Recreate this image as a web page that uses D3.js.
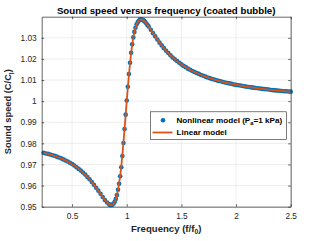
<!DOCTYPE html>
<html>
<head>
<meta charset="utf-8">
<script src="https://cdn.jsdelivr.net/npm/d3@7"></script>
<style>
  html, body { margin: 0; padding: 0; background: #fff; }
  svg { display: block; font-family: "Liberation Sans", Arial, Helvetica, sans-serif; }
</style>
</head>
<body>
<svg id="chart" width="321" height="241"></svg>
<script>
// ---------------- data ----------------
const freqs = [
  0.24,0.26,0.28,0.30,0.32,0.34,0.36,0.38,0.40,0.42,0.44,0.46,0.48,0.50,0.52,0.54,0.56,0.58,0.60,0.62,
  0.64,0.66,0.68,0.70,0.72,0.74,0.76,0.78,0.80,0.82,0.84,
  0.85,0.86,0.87,0.88,0.89,0.90,0.91,0.92,0.93,0.94,0.95,0.96,0.97,0.98,0.99,1.00,1.01,1.02,1.03,1.04,
  1.05,1.06,1.07,1.08,1.09,1.10,1.11,1.12,1.13,1.14,1.15,1.16,1.17,1.18,1.19,1.20,
  1.22,1.24,1.26,1.28,1.30,1.32,1.34,1.36,1.38,1.40,1.42,1.44,1.46,1.48,1.50,1.52,1.54,1.56,1.58,1.60,
  1.62,1.64,1.66,1.68,1.70,1.72,1.74,1.76,1.78,1.80,1.82,1.84,1.86,1.88,1.90,1.92,1.94,1.96,1.98,2.00,
  2.02,2.04,2.06,2.08,2.10,2.12,2.14,2.16,2.18,2.20,2.22,2.24,2.26,2.28,2.30,2.32,2.34,2.36,2.38,2.40,
  2.42,2.44,2.46,2.48,2.50
];
const linearModel = [
  0.97548,0.97524,0.97498,0.97470,0.97439,0.97406,0.97369,0.97330,0.97287,0.97240,0.97190,0.97136,0.97078,0.97015,0.96947,0.96873,0.96794,0.96708,0.96616,0.96517,
  0.96410,0.96295,0.96173,0.96042,0.95904,0.95759,0.95611,0.95462,0.95321,0.95197,0.95108,
  0.95084,0.95079,0.95098,0.95147,0.95233,0.95362,0.95542,0.95783,0.96088,0.96465,0.96914,0.97452,0.98046,0.98682,0.99340,1.00000,1.00639,1.01238,1.01782,1.02260,
  1.02668,1.03004,1.03272,1.03478,1.03628,1.03731,1.03811,1.03856,1.03872,1.03864,1.03837,1.03796,1.03742,1.03680,1.03611,1.03537,
  1.03383,1.03225,1.03069,1.02917,1.02773,1.02637,1.02509,1.02388,1.02276,1.02171,1.02073,1.01981,1.01896,1.01816,1.01741,1.01672,1.01605,1.01544,1.01486,1.01430,
  1.01380,1.01332,1.01285,1.01240,1.01198,1.01160,1.01123,1.01088,1.01054,1.01022,1.00993,1.00964,1.00936,1.00909,1.00883,1.00859,1.00837,1.00815,1.00794,1.00773,
  1.00754,1.00736,1.00717,1.00700,1.00682,1.00667,1.00652,1.00637,1.00622,1.00608,1.00595,1.00582,1.00570,1.00557,1.00545,1.00534,1.00524,1.00513,1.00503,1.00493,
  1.00484,1.00474,1.00465,1.00456,1.00447
];
const nonlinearModel = [
  0.9755,0.9752,0.9750,0.9747,0.9744,0.9741,0.9737,0.9733,0.9729,0.9724,0.9719,0.9714,0.9708,0.9702,0.9695,0.9687,0.9679,0.9671,0.9662,0.9652,
  0.9641,0.9630,0.9617,0.9604,0.9590,0.9576,0.9561,0.9546,0.9532,0.9520,0.9511,
  0.9508,0.9508,0.9510,0.9515,0.9523,0.9537,0.9555,0.9580,0.9609,0.9644,0.9687,0.9740,0.9802,0.9868,0.9936,1.0003,1.0068,1.0128,1.0182,1.0229,
  1.0269,1.0302,1.0328,1.0348,1.0363,1.0373,1.0381,1.0386,1.0387,1.0386,1.0384,1.0380,1.0374,1.0368,1.0361,1.0354,
  1.0338,1.0322,1.0307,1.0292,1.0277,1.0264,1.0251,1.0239,1.0228,1.0217,1.0207,1.0198,1.0190,1.0182,1.0174,1.0167,1.0161,1.0154,1.0149,1.0143,
  1.0138,1.0133,1.0129,1.0124,1.0120,1.0116,1.0112,1.0109,1.0105,1.0102,1.0099,1.0096,1.0094,1.0091,1.0088,1.0086,1.0084,1.0082,1.0079,1.0077,
  1.0075,1.0074,1.0072,1.0070,1.0068,1.0067,1.0065,1.0064,1.0062,1.0061,1.0060,1.0058,1.0057,1.0056,1.0055,1.0053,1.0052,1.0051,1.0050,1.0049,
  1.0048,1.0047,1.0047,1.0046,1.0045
];
const xTicks = [0.5, 1, 1.5, 2, 2.5];
const xTickLabels = ["0.5", "1", "1.5", "2", "2.5"];
const yTicks = [0.95, 0.96, 0.97, 0.98, 0.99, 1.00, 1.01, 1.02, 1.03];
const yTickLabels = ["0.95", "0.96", "0.97", "0.98", "0.99", "1", "1.01", "1.02", "1.03"];
const xDomain = [0.222, 2.5];
const yDomain = [0.95, 1.04];
const seriesNames = ["Nonlinear model (P", "a", "=1 kPa)", "Linear model"];

// ---------------- layout ----------------
const L = 41.7, R = 290.7, T = 16.7, B = 206.7;
const axisColor = "#262626";
const blue = "#0072BD", orange = "#D95319";

const svg = d3.select("#chart");
svg.append("rect").attr("width", 321).attr("height", 241).attr("fill", "#fff");

const x = d3.scaleLinear().domain(xDomain).range([L, R]);
const y = d3.scaleLinear().domain(yDomain).range([B, T]);

// grid
const grid = svg.append("g");
grid.selectAll("line.gx").data(xTicks).join("line")
  .attr("x1", d => x(d)).attr("x2", d => x(d)).attr("y1", T).attr("y2", B)
  .attr("stroke", "#e3e3e3").attr("stroke-width", 0.6);
grid.selectAll("line.gy").data(yTicks).join("line")
  .attr("y1", d => y(d)).attr("y2", d => y(d)).attr("x1", L).attr("x2", R)
  .attr("stroke", "#e3e3e3").attr("stroke-width", 0.6);

// data
const pts = freqs.map((f, i) => ({ f, lin: linearModel[i], nl: nonlinearModel[i] }));
svg.append("g").selectAll("circle").data(pts).join("circle")
  .attr("cx", d => x(d.f)).attr("cy", d => y(d.nl)).attr("r", 2.3)
  .attr("fill", blue);
svg.append("path").datum(pts)
  .attr("d", d3.line().x(d => x(d.f)).y(d => y(d.lin)))
  .attr("fill", "none").attr("stroke", orange).attr("stroke-width", 1.8)
  .attr("stroke-linejoin", "round");

// axes (inward ticks, mirrored)
const tickLen = 2.5;
function styleAxis(g) {
  g.selectAll(".domain").attr("stroke", axisColor).attr("stroke-width", 0.7);
  g.selectAll(".tick line").attr("stroke", axisColor).attr("stroke-width", 0.7);
  g.selectAll(".tick text").attr("fill", axisColor).style("font-size", "8.3px")
    .style("font-family", "'Liberation Sans', Arial, sans-serif");
}
const xAxis = d3.axisBottom(x).tickValues(xTicks).tickFormat((d, i) => xTickLabels[i])
  .tickSizeInner(-tickLen).tickSizeOuter(0).tickPadding(6);
svg.append("g").attr("transform", `translate(0,${B})`).call(xAxis).call(styleAxis)
  .call(g => g.selectAll(".tick text").attr("dy", "0.71em"));
const xAxisTop = d3.axisTop(x).tickValues(xTicks).tickFormat("")
  .tickSizeInner(-tickLen).tickSizeOuter(0);
svg.append("g").attr("transform", `translate(0,${T})`).call(xAxisTop).call(styleAxis);

const yAxis = d3.axisLeft(y).tickValues(yTicks).tickFormat((d, i) => yTickLabels[i])
  .tickSizeInner(-tickLen).tickSizeOuter(0).tickPadding(5);
svg.append("g").attr("transform", `translate(${L},0)`).call(yAxis).call(styleAxis);
const yAxisRight = d3.axisRight(y).tickValues(yTicks).tickFormat("")
  .tickSizeInner(-tickLen).tickSizeOuter(0);
svg.append("g").attr("transform", `translate(${R},0)`).call(yAxisRight).call(styleAxis);

svg.selectAll("g").attr("font-family", null).attr("font-size", null);

// title
svg.append("text").attr("x", (L + R) / 2).attr("y", 13.5).attr("text-anchor", "middle")
  .attr("font-weight", "bold").attr("font-size", 9.7).attr("fill", "#000")
  .text("Sound speed versus frequency (coated bubble)");

// x label
const xl = svg.append("text").attr("x", (L + R) / 2).attr("y", 231.5).attr("text-anchor", "middle")
  .attr("font-weight", "bold").attr("font-size", 9.6).attr("fill", axisColor);
xl.append("tspan").text("Frequency (f/f");
xl.append("tspan").attr("font-size", 6.8).attr("dy", 2.5).text("0");
xl.append("tspan").attr("dy", -2.5).text(")");

// y label
const yl = svg.append("text").attr("transform", `translate(11,${(T + B) / 2}) rotate(-90)`)
  .attr("text-anchor", "middle").attr("font-weight", "bold").attr("font-size", 9.3).attr("fill", axisColor);
yl.append("tspan").text("Sound speed (C/C");
yl.append("tspan").attr("font-size", 6.6).attr("dy", 2.5).text("l");
yl.append("tspan").attr("dy", -2.5).text(")");

// legend
const lg = svg.append("g");
lg.append("rect").attr("x", 150.5).attr("y", 111.8).attr("width", 136).attr("height", 27.5)
  .attr("fill", "#fff").attr("stroke", axisColor).attr("stroke-width", 0.6);
lg.append("circle").attr("cx", 163).attr("cy", 120.3).attr("r", 2.3).attr("fill", blue);
lg.append("line").attr("x1", 152.5).attr("x2", 172.5).attr("y1", 132.5).attr("y2", 132.5)
  .attr("stroke", orange).attr("stroke-width", 1.8);
const t1 = lg.append("text").attr("x", 176.5).attr("y", 123).attr("font-weight", "bold")
  .attr("font-size", 8.1).attr("fill", "#000");
t1.append("tspan").text(seriesNames[0]);
t1.append("tspan").attr("font-size", 5.8).attr("dy", 2).text(seriesNames[1]);
t1.append("tspan").attr("dy", -2).text(seriesNames[2]);
lg.append("text").attr("x", 176.5).attr("y", 135.3).attr("font-weight", "bold")
  .attr("font-size", 8.1).attr("fill", "#000").text(seriesNames[3]);
</script>
</body>
</html>
